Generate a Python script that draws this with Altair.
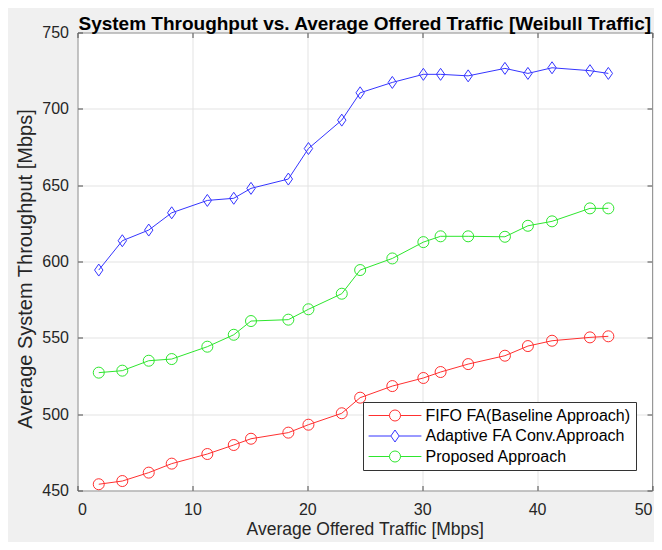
import altair as alt
import pandas as pd

# ---- data ----
traffic = [1.85, 3.9, 6.2, 8.2, 11.3, 13.6, 15.1, 18.35, 20.1, 23.0,
           24.6, 27.4, 30.1, 31.6, 34.0, 37.2, 39.2, 41.3, 44.6, 46.2]
fifo = [454.1, 456.2, 461.7, 467.6, 473.9, 479.8, 483.9, 487.9, 493.1, 500.6,
        510.8, 518.4, 523.7, 527.6, 532.8, 538.3, 544.6, 548.1, 550.3, 551.0]
adaptive = [594.4, 613.6, 620.6, 631.9, 640.0, 641.4, 647.9, 654.0, 674.0, 692.6,
            710.5, 717.3, 722.6, 722.6, 721.6, 726.5, 723.2, 726.9, 725.0, 723.2]
proposed = [527.2, 528.5, 535.0, 536.1, 544.2, 552.0, 561.0, 561.9, 568.7, 578.9,
            594.4, 602.0, 612.7, 616.5, 616.5, 616.2, 623.4, 626.3, 634.8, 634.8]

series_names = ["FIFO FA(Baseline Approach)", "Adaptive FA Conv.Approach", "Proposed Approach"]
series_colors = ["#ff3030", "#3535ff", "#2ee62e"]
x_ticks = [0, 10, 20, 30, 40, 50]
y_ticks = [450, 500, 550, 600, 650, 700, 750]

rows = []
for name, vals in zip(series_names, [fifo, adaptive, proposed]):
    for xv, yv in zip(traffic, vals):
        rows.append({"x": xv, "y": yv, "series": name})
df = pd.DataFrame(rows)

FONT = "Liberation Sans"
TXT = "#262626"
EDGE = "#4d4d4d"

xscale = alt.Scale(domain=[0, 50], nice=False, zero=False)
yscale = alt.Scale(domain=[450, 750], nice=False, zero=False)


def cscale():
    return alt.Scale(domain=series_names, range=series_colors)


diamond_path = "M-0.7,0L0,-1L0.7,0L0,1Z"
# legend symbols: a line segment with the marker (unit = 8 px)
leg_circle = ("M-3.3,0L-0.69,0M0.69,0L3.3,0"
              "M0.69,0A0.69,0.69,0,1,1,-0.69,0A0.69,0.69,0,1,1,0.69,0")
leg_diamond = "M-3.3,0L-0.52,0M0.52,0L3.3,0M0,-0.75L0.52,0L0,0.75L-0.52,0Z"


def tick_axis(orient):
    return alt.Axis(orient=orient, offset=-5, ticks=True, tickSize=5, tickColor=EDGE,
                    tickWidth=1, labels=False, domain=False, grid=False, title=None,
                    values=x_ticks if orient in ("top", "bottom") else y_ticks)


base = alt.Chart(df)

lines = base.mark_line(strokeWidth=1).encode(
    x=alt.X("x:Q", scale=xscale, axis=alt.Axis(
        orient="bottom", values=x_ticks, grid=True, ticks=False, domain=False,
        labelFontSize=16, labelFont=FONT, labelColor=TXT, labelPadding=11,
        title="Average Offered Traffic [Mbps]", titleFont=FONT, titleFontSize=17.5,
        titleFontWeight="normal", titleColor=TXT, titlePadding=3)),
    y=alt.Y("y:Q", scale=yscale, axis=alt.Axis(
        orient="left", values=y_ticks, grid=True, ticks=False, domain=False,
        labelFontSize=16, labelFont=FONT, labelColor=TXT, labelPadding=9,
        title="Average System Throughput [Mbps]", titleFont=FONT, titleFontSize=20,
        titleFontWeight="normal", titleColor=TXT, titlePadding=6, titleY=236)),
    color=alt.Color("series:N", scale=cscale(), legend=None),
)

circles = base.transform_filter(
    alt.datum.series != series_names[1]
).mark_point(shape="circle", size=121, filled=False, strokeWidth=1, opacity=1).encode(
    x=alt.X("x:Q", scale=xscale, axis=tick_axis("bottom")),
    y=alt.Y("y:Q", scale=yscale, axis=tick_axis("left")),
    color=alt.Color("series:N", scale=cscale(), legend=None),
)

diamonds = base.transform_filter(
    alt.datum.series == series_names[1]
).mark_point(shape=diamond_path, size=144, filled=False, strokeWidth=1, opacity=1).encode(
    x=alt.X("x:Q", scale=xscale, axis=tick_axis("top")),
    y=alt.Y("y:Q", scale=yscale, axis=tick_axis("right")),
    color=alt.Color("series:N", scale=cscale(), legend=None),
)

leg = alt.Legend(
    title=None, orient="none", legendX=285.5, legendY=369.5,
    fillColor="white", strokeColor="#333333", padding=5,
    labelFont=FONT, labelFontSize=16, labelColor="#000000", labelOffset=22,
    symbolSize=256, symbolOffset=18.5, symbolStrokeWidth=1, symbolOpacity=1,
    rowPadding=3.5, labelLimit=400,
)

legend_layer = base.mark_point(
    filled=False, strokeWidth=1, opacity=0
).encode(
    x=alt.X("x:Q", scale=xscale, axis=None),
    y=alt.Y("y:Q", scale=yscale, axis=None),
    color=alt.Color("series:N", scale=cscale(), legend=leg),
    shape=alt.Shape("series:N", scale=alt.Scale(domain=series_names,
                                                range=[leg_circle, leg_diamond, leg_circle]),
                    legend=leg),
)

chart = alt.layer(lines, circles, diamonds, legend_layer).resolve_axis(
    x="independent", y="independent"
).resolve_scale(
    color="independent", shape="independent"
).properties(
    width=574.5, height=458,
    padding={"left": 69.5, "top": 24.5, "right": 2, "bottom": 51.5},
    autosize=alt.AutoSizeParams(type="none"),
    background="#f0f0f0",
    title=alt.Title("System Throughput vs. Average Offered Traffic [Weibull Traffic]",
                    font=FONT, fontSize=19, fontWeight="bold", color="#000000",
                    anchor="middle", frame="group", offset=0, dy=9),
).configure_view(
    stroke=EDGE, strokeWidth=1, fill="white"
).configure_axis(
    gridColor="#e3e3e3", gridWidth=1
)

chart.save("out.html", embed_options={"renderer": "svg", "actions": False})
